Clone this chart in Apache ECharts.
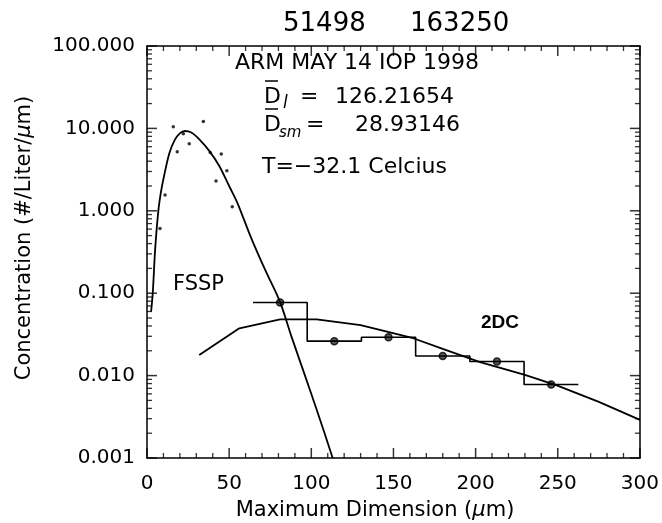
<!DOCTYPE html>
<html>
<head>
<meta charset="utf-8">
<script src="https://cdn.jsdelivr.net/npm/echarts@6/dist/echarts.min.js"></script>
</head>
<body style="margin:0; background:#fff">
<div id="chart" style="width:662px;height:523px"></div>
<script>
// FSSP size distribution: measured points and fitted curve
const fsspPoints = [
  [7.9, 0.61], [11.0, 1.55], [16.0, 10.5], [18.4, 5.2], [22.1, 8.6], [25.7, 6.5],
  [34.3, 12.1], [38.5, 5.1], [42.0, 2.3], [45.2, 4.9], [48.6, 3.07], [51.9, 1.12]
];
const fsspFit = [
  [2.5, 0.06], [3.5, 0.1], [5, 0.35], [6.9, 1.0], [8.5, 1.7], [10.3, 2.6], [13.6, 5.0],
  [17, 7.3], [20, 8.7], [23, 9.3], [27, 8.9], [32, 7.3], [38, 5.3], [44, 3.5], [50, 2.0],
  [55, 1.25], [63, 0.49], [72, 0.19], [81, 0.078], [88, 0.0295], [96, 0.0102],
  [104, 0.0035], [113, 0.001]
];

// 2DC bins
const binEdges = [64.5, 97.5, 130.5, 163.5, 196.5, 229.5, 262.5];
const binCenters = [81, 114, 147, 180, 213, 246];
const binValues = [0.077, 0.0262, 0.0292, 0.0173, 0.0148, 0.0078];
const dcFit = [
  [31.8, 0.0178], [56.2, 0.0375], [81, 0.048], [103.3, 0.048], [130, 0.041],
  [162, 0.0284], [180, 0.0211], [202.7, 0.0146], [230, 0.0102], [249.4, 0.0076],
  [275, 0.0048], [300, 0.0029]
];

// axes
const xTicks = [0, 50, 100, 150, 200, 250, 300];
const xMinorTicks = [10, 20, 30, 40, 60, 70, 80, 90, 110, 120, 130, 140, 160, 170, 180, 190,
  210, 220, 230, 240, 260, 270, 280, 290];
const yDecades = [0.001, 0.01, 0.1, 1, 10, 100];
const yMinorMultiples = [2, 3, 4, 5, 6, 7, 8, 9];

const FONT = 'DejaVu Sans';
const X_MIN = xTicks[0], X_MAX = xTicks[xTicks.length - 1];
const Y_MIN = yDecades[0], Y_MAX = yDecades[yDecades.length - 1];

let stepData = binEdges.map((e, i) => [e, binValues[Math.min(i, binValues.length - 1)]]);

let yMinorTicks = [];
yDecades.slice(0, -1).forEach(d => {
  yMinorMultiples.forEach(m => yMinorTicks.push(d * m));
});

// frame tick marks, drawn as thin rect symbols placed through the axes
function tickItems(points, size, offset) {
  return points.map(p => ({ value: p, symbolSize: size, symbolOffset: offset }));
}
function tickSeries(items) {
  return {
    type: 'scatter', symbol: 'rect', silent: true, clip: false, z: 10,
    itemStyle: { color: '#000' }, data: items
  };
}

let bottomTicks = tickItems(xTicks.map(x => [x, Y_MIN]), [1.5, 10], [0, -5])
  .concat(tickItems(xMinorTicks.map(x => [x, Y_MIN]), [1.3, 5], [0, -2.5]));
let topTicks = tickItems(xTicks.map(x => [x, Y_MAX]), [1.5, 10], [0, 5])
  .concat(tickItems(xMinorTicks.map(x => [x, Y_MAX]), [1.3, 5], [0, 2.5]));
let leftTicks = tickItems(yDecades.map(v => [X_MIN, v]), [10, 1.5], [5, 0])
  .concat(tickItems(yMinorTicks.map(v => [X_MIN, v]), [5, 1.3], [2.5, 0]));
let rightTicks = tickItems(yDecades.map(v => [X_MAX, v]), [10, 1.5], [-5, 0])
  .concat(tickItems(yMinorTicks.map(v => [X_MAX, v]), [5, 1.3], [-2.5, 0]));

function axisLine() { return { show: true, onZero: false, lineStyle: { color: '#000', width: 1.5 } }; }

function textEl(x, y, text, size, extra) {
  return {
    type: 'text', x: x, y: y,
    style: Object.assign({ text: text, fontFamily: FONT, fontSize: size, fill: '#000', verticalAlign: 'middle' }, extra || {})
  };
}

var myChart = echarts.init(document.getElementById('chart'), null, { renderer: 'canvas' });

var option = {
  animation: false,
  grid: { left: 147, right: 22, top: 46, bottom: 65 },
  xAxis: [
    {
      type: 'value', min: X_MIN, max: X_MAX, interval: 50, position: 'bottom',
      axisLine: axisLine(), axisTick: { show: false },
      axisLabel: { margin: 16, color: '#000', fontFamily: FONT, fontSize: 20 },
      splitLine: { show: false }
    },
    {
      type: 'value', min: X_MIN, max: X_MAX, interval: 50, position: 'top',
      axisLine: axisLine(), axisTick: { show: false },
      axisLabel: { show: false }, splitLine: { show: false }
    }
  ],
  yAxis: [
    {
      type: 'log', min: Y_MIN, max: Y_MAX, position: 'left',
      axisLine: axisLine(), axisTick: { show: false },
      axisLabel: { margin: 12, color: '#000', fontFamily: FONT, fontSize: 20, formatter: v => Number(v).toFixed(3) },
      splitLine: { show: false }
    },
    {
      type: 'log', min: Y_MIN, max: Y_MAX, position: 'right',
      axisLine: axisLine(), axisTick: { show: false },
      axisLabel: { show: false }, splitLine: { show: false }
    }
  ],
  series: [
    tickSeries(bottomTicks),
    tickSeries(topTicks),
    tickSeries(leftTicks),
    tickSeries(rightTicks),
    { type: 'line', data: fsspFit, smooth: 0.3, showSymbol: false, lineStyle: { color: '#000', width: 1.8 } },
    { type: 'scatter', data: fsspPoints, symbolSize: 3.5, itemStyle: { color: '#000' } },
    { type: 'line', data: dcFit, showSymbol: false, lineStyle: { color: '#000', width: 1.8 } },
    { type: 'line', data: stepData, step: 'end', showSymbol: false, lineStyle: { color: '#000', width: 1.6 } },
    {
      type: 'scatter', data: binCenters.map((c, i) => [c, binValues[i]]), symbolSize: 7,
      itemStyle: { color: '#333', borderColor: '#000', borderWidth: 1.5 }
    }
  ],
  graphic: [
    textEl(283, 24, '51498', 26),
    textEl(410, 24, '163250', 26),
    textEl(235, 63, 'ARM MAY 14 IOP 1998', 22),
    textEl(264, 97, 'D', 22),
    { type: 'line', shape: { x1: 265, y1: 81, x2: 278, y2: 81 }, style: { stroke: '#000', lineWidth: 1.5 } },
    textEl(283, 104, 'l', 17, { fontStyle: 'italic' }),
    textEl(300, 97, '=', 22),
    textEl(335, 97, '126.21654', 22),
    textEl(264, 125, 'D', 22),
    { type: 'line', shape: { x1: 265, y1: 109, x2: 278, y2: 109 }, style: { stroke: '#000', lineWidth: 1.5 } },
    textEl(279, 133, 'sm', 15, { fontStyle: 'italic' }),
    textEl(306, 125, '=', 22),
    textEl(355, 125, '28.93146', 22),
    textEl(262, 167, 'T=\u221232.1 Celcius', 22),
    textEl(173, 285, 'FSSP', 21),
    textEl(500, 323, '2DC', 19, { fontFamily: 'Liberation Sans', fontWeight: 'bold', align: 'center' }),
    textEl(375, 511, 'Maximum Dimension ({mu|\u03bc}m)', 21, {
      align: 'center', rich: { mu: { fontFamily: FONT, fontStyle: 'italic', fontSize: 21, fill: '#000' } }
    }),
    Object.assign(textEl(25, 238, 'Concentration (#/Liter/{mu|\u03bc}m)', 21, {
      align: 'center', rich: { mu: { fontFamily: FONT, fontStyle: 'italic', fontSize: 21, fill: '#000' } }
    }), { rotation: Math.PI / 2 })
  ]
};

if (option && typeof option === 'object') {
  myChart.setOption(option);
}

window.addEventListener('resize', myChart.resize);
</script>
</body>
</html>
